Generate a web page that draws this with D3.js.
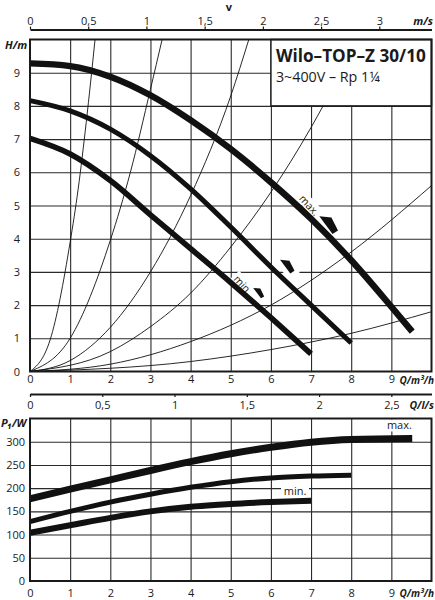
<!DOCTYPE html>
<html><head><meta charset="utf-8">
<script src="https://cdn.jsdelivr.net/npm/d3@7"></script>
<style>
body{margin:0;background:#fff;}
svg{display:block;font-family:"Open Sans","Noto Sans",sans-serif;}
</style></head><body>
<svg id="c" width="435" height="600"></svg>
<script>
// ---------- data ----------
const flowTicks = [0,1,2,3,4,5,6,7,8,9];
const headTicks = [0,1,2,3,4,5,6,7,8,9];
const powerTicks = [0,50,100,150,200,250,300];
const velocityTicks = [0,0.5,1,1.5,2,2.5,3];
const litreTicks = [0,0.5,1,1.5,2,2.5];
const speedLabels = ["max.","min."];

// head curves H [m] vs Q [m³/h]
const headMax = [[0,9.28],[1,9.2],[2,8.88],[3,8.32],[4,7.57],[5,6.7],[6,5.7],[7,4.6],[8,3.35],[9,1.95],[9.52,1.2]];
const headMid = [[0,8.16],[1,7.85],[2,7.3],[3,6.5],[4,5.5],[5,4.35],[6,3.15],[7,2.0],[8,0.86]];
const headMin = [[0,7.02],[1,6.55],[2,5.75],[3,4.72],[4,3.7],[5,2.68],[6,1.62],[7,0.53]];

// power curves P1 [W] vs Q [m³/h]
const powerMax = [[0,177],[1,198],[2,218],[3,238],[4,257],[5,274],[6,288],[7,299],[8,305],[9.52,307]];
const powerMid = [[0,128],[1,150],[2,170],[3,187],[4,202],[5,214],[6,222],[7,226],[8,228]];
const powerMin = [[0,104],[1,120],[2,136],[3,150],[4,160],[5,166],[6,170],[7,173]];

// thin system curves
const sys1 = [[0,0],[0.5,0.95],[1,3.9],[1.2,5.5],[1.4,7.5],[1.62,10]];
const sys2 = [[0,0],[1,1.0],[2,3.95],[2.5,6.0],[3,8.5],[3.29,10]];
const sys3 = [[0,0],[1,0.33],[2,1.33],[3,3.0],[4,5.3],[5,8.3],[5.45,10]];
const sys4 = [[0,0],[2,0.6],[3,1.35],[4,2.36],[5,3.75],[6,5.4],[7,7.35],[7.3,8]];
const sys5 = [[0,0],[2,0.22],[4,0.9],[6,2.0],[8,3.6],[10,5.6]];
const sys6 = [[0,0],[4,0.3],[6,0.66],[8,1.15],[10,1.8]];
const systemCurves = [sys1,sys2,sys3,sys4,sys5,sys6];

// speed-setting markers (Q, H)
const markerAt = [[7.48,4.41],[6.44,3.16],[5.72,2.36]];

// ---------- scales ----------
const svg = d3.select("#c");
const x  = d3.scaleLinear().domain([0,10]).range([30,431.5]);
const yH = d3.scaleLinear().domain([0,10]).range([371.5,39.5]);
const yP = d3.scaleLinear().domain([0,350]).range([581,418.5]);
const xV = d3.scaleLinear().domain([0,10/2.9]).range(x.range());
const xL = d3.scaleLinear().domain([0,10/3.6]).range(x.range());
const comma = d => String(d).replace(".", ",");
const INK = "#1a1a1a";

const defs = svg.append("defs");
defs.append("clipPath").attr("id","clipU").append("rect")
  .attr("x",x(0)).attr("y",yH(10)).attr("width",x(10)-x(0)).attr("height",yH(0)-yH(10));

// ---------- upper chart ----------
const gU = svg.append("g");
gU.append("g").attr("transform",`translate(0,${yH(0)})`)
  .call(d3.axisBottom(x).tickValues(flowTicks.slice(1)).tickSize(-(yH(0)-yH(10))).tickFormat(""))
  .call(g=>g.select(".domain").remove())
  .call(g=>g.selectAll("line").attr("stroke","#2a2a2a").attr("stroke-width",1.1));
gU.append("g").attr("transform",`translate(${x(0)},0)`)
  .call(d3.axisLeft(yH).tickValues(headTicks.slice(1)).tickSize(-(x(10)-x(0))).tickFormat(""))
  .call(g=>g.select(".domain").remove())
  .call(g=>g.selectAll("line").attr("stroke","#2a2a2a").attr("stroke-width",1.1));

// system curves
const lineH = d3.line().x(d=>x(d[0])).y(d=>yH(d[1])).curve(d3.curveMonotoneX);
gU.append("g").attr("clip-path","url(#clipU)")
  .selectAll("path").data(systemCurves).join("path")
  .attr("d",lineH).attr("fill","none").attr("stroke","#111").attr("stroke-width",0.9);

// title box
gU.append("rect").attr("x",x(6)).attr("y",yH(10)).attr("width",x(10)-x(6)).attr("height",yH(8)-yH(10))
  .attr("fill","#fff").attr("stroke",INK).attr("stroke-width",1.5);
const t1 = gU.append("text").attr("x",x(6)+5).attr("y",62.3).attr("font-weight","bold")
  .attr("font-size",17).attr("fill",INK).text("Wilo–TOP–Z 30/10");
{ const w = t1.node().getComputedTextLength(); t1.attr("font-size",17*150/w); }
const t2 = gU.append("text").attr("x",x(6)+5).attr("y",82.3)
  .attr("font-size",13.5).attr("fill",INK).text("3~400V – Rp 1¼");
{ const w = t2.node().getComputedTextLength(); t2.attr("font-size",13.5*104/w); }

// marker halos & label halos (knock out grid)
const shapes = [11,8.5,6.5];
const baseShape = [[-1,-0.8],[0.1,-0.7],[0.7,0.5],[0.2,0.8]];
const markerPath = (d,i) => "M" + baseShape.map(p=>[x(d[0])+p[0]*shapes[i], yH(d[1])+p[1]*shapes[i]].join(",")).join("L") + "Z";
gU.append("g").selectAll("path").data(markerAt).join("path")
  .attr("d",markerPath).attr("fill","#fff").attr("stroke","#fff").attr("stroke-width",10).attr("stroke-linejoin","round");

const curveLabels = [{t:speedLabels[0],Q:6.95,H:5.0},{t:speedLabels[1],Q:5.3,H:2.6}];
const lbl = gU.append("g").selectAll("g").data(curveLabels).join("g")
  .attr("transform",d=>`translate(${x(d.Q)},${yH(d.H)}) rotate(48)`);
lbl.append("rect").attr("x",-13).attr("y",-7).attr("width",26).attr("height",12).attr("fill","#fff");
lbl.append("text").attr("text-anchor","middle").attr("dy","0.32em").attr("font-size",10.5)
  .attr("fill",INK).text(d=>d.t);

// pump curves
const headCurves = [{d:headMax,w:6.4},{d:headMid,w:5},{d:headMin,w:5.6}];
gU.append("g").selectAll("path").data(headCurves).join("path")
  .attr("d",d=>lineH(d.d)).attr("fill","none").attr("stroke","#111").attr("stroke-width",d=>d.w);

// markers
gU.append("g").selectAll("path").data(markerAt).join("path")
  .attr("d",markerPath).attr("fill","#111");

// frame
gU.append("rect").attr("x",x(0)).attr("y",yH(10)).attr("width",x(10)-x(0)).attr("height",yH(0)-yH(10))
  .attr("fill","none").attr("stroke",INK).attr("stroke-width",2);

// axes
const styleTicks = g => g.selectAll("text").attr("font-size",11).attr("fill",INK).attr("font-family","'Open Sans',sans-serif");
svg.append("g").attr("transform",`translate(0,${yH(0)})`)
  .call(d3.axisBottom(x).tickValues(flowTicks).tickSize(0).tickPadding(4))
  .call(g=>g.select(".domain").remove()).call(styleTicks);
svg.append("g").attr("transform",`translate(${x(0)},0)`)
  .call(d3.axisLeft(yH).tickValues(headTicks).tickSize(0).tickPadding(10))
  .call(g=>g.select(".domain").remove()).call(styleTicks);
svg.append("g").attr("transform","translate(0,29.6)")
  .call(d3.axisTop(xV).tickValues(velocityTicks).tickFormat(comma).tickSize(3).tickSizeOuter(0).tickPadding(2))
  .call(g=>g.select(".domain").attr("stroke",INK).attr("stroke-width",2))
  .call(g=>g.selectAll("line").attr("stroke",INK).attr("stroke-width",1.2)).call(styleTicks);

// ---------- lower chart ----------
const gL = svg.append("g");
gL.append("g").attr("transform",`translate(0,${yP(0)})`)
  .call(d3.axisBottom(x).tickValues(flowTicks.slice(1)).tickSize(-(yP(0)-yP(350))).tickFormat(""))
  .call(g=>g.select(".domain").remove())
  .call(g=>g.selectAll("line").attr("stroke","#2a2a2a").attr("stroke-width",1.1));
gL.append("g").attr("transform",`translate(${x(0)},0)`)
  .call(d3.axisLeft(yP).tickValues(powerTicks.slice(1)).tickSize(-(x(10)-x(0))).tickFormat(""))
  .call(g=>g.select(".domain").remove())
  .call(g=>g.selectAll("line").attr("stroke","#2a2a2a").attr("stroke-width",1.1));

const pLabels = [{t:speedLabels[0],Q:9.2,P:335},{t:speedLabels[1],Q:6.6,P:193}];
const pl = gL.append("g").selectAll("g").data(pLabels).join("g")
  .attr("transform",d=>`translate(${x(d.Q)},${yP(d.P)})`);
pl.append("rect").attr("x",-14).attr("y",-6).attr("width",28).attr("height",12).attr("fill","#fff");
pl.append("text").attr("text-anchor","middle").attr("dy","0.32em").attr("font-size",11)
  .attr("fill",INK).text(d=>d.t);

const lineP = d3.line().x(d=>x(d[0])).y(d=>yP(d[1])).curve(d3.curveMonotoneX);
const powerCurves = [{d:powerMax,w:7},{d:powerMid,w:5},{d:powerMin,w:6}];
gL.append("g").selectAll("path").data(powerCurves).join("path")
  .attr("d",d=>lineP(d.d)).attr("fill","none").attr("stroke","#111").attr("stroke-width",d=>d.w);

gL.append("rect").attr("x",x(0)).attr("y",yP(350)).attr("width",x(10)-x(0)).attr("height",yP(0)-yP(350))
  .attr("fill","none").attr("stroke",INK).attr("stroke-width",2);

svg.append("g").attr("transform",`translate(0,${yP(0)})`)
  .call(d3.axisBottom(x).tickValues(flowTicks).tickSize(0).tickPadding(8))
  .call(g=>g.select(".domain").remove()).call(styleTicks);
svg.append("g").attr("transform",`translate(${x(0)},0)`)
  .call(d3.axisLeft(yP).tickValues(powerTicks).tickSize(0).tickPadding(5))
  .call(g=>g.select(".domain").remove()).call(styleTicks);
svg.append("g").attr("transform","translate(0,394)")
  .call(d3.axisBottom(xL).tickValues(litreTicks).tickFormat(comma).tickSize(3).tickSizeOuter(0).tickPadding(4))
  .call(g=>g.select(".domain").attr("stroke",INK).attr("stroke-width",2))
  .call(g=>g.selectAll("line").attr("stroke",INK).attr("stroke-width",1.2)).call(styleTicks);

// ---------- unit labels ----------
const unit = (txt,xx,yy,anchor,italic=true,fs=11) => svg.append("text").attr("x",xx).attr("y",yy)
  .attr("dy","0.35em").attr("text-anchor",anchor||"start").attr("font-size",fs).attr("font-weight","bold")
  .attr("font-style",italic?"italic":"normal").attr("fill",INK).text(txt);
unit("v",229,7,"middle",false);
unit("m/s",433,21,"end");
unit("H/m",5,45,"start");
unit("Q/m³/h",434,380,"end",true,10);
unit("Q/l/s",434,405,"end",true,10.5);
unit("P₁/W",1,423,"start");
unit("Q/m³/h",434,593,"end",true,10);
</script>
</body></html>
